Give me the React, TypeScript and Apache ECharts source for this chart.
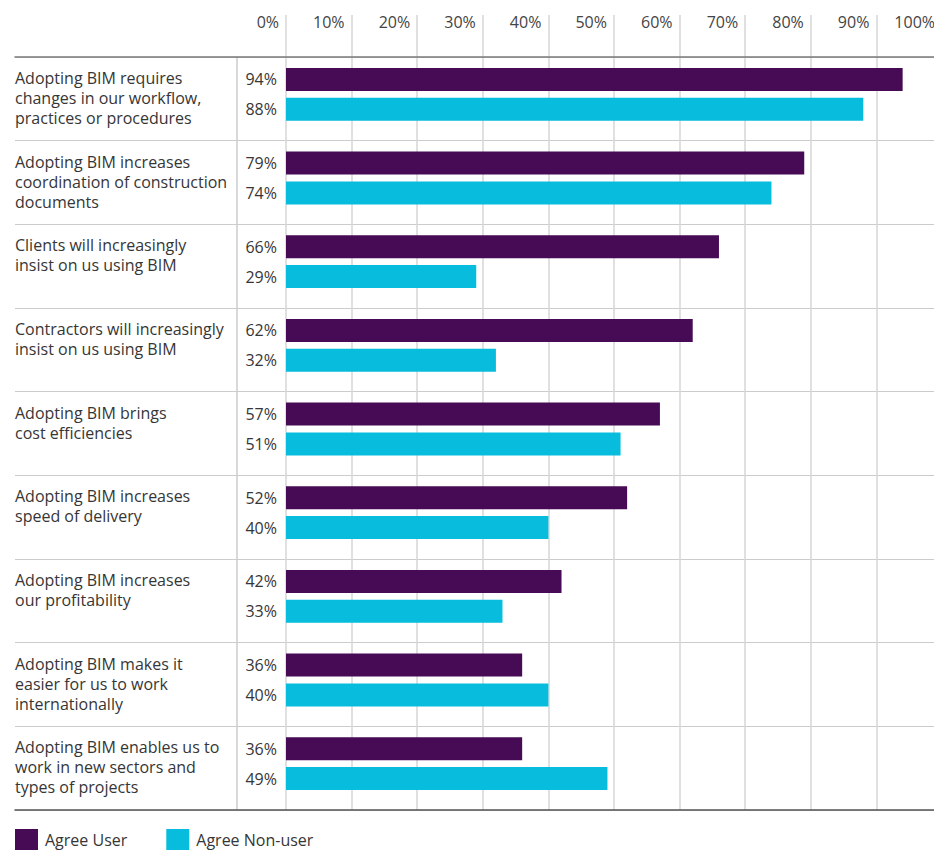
import React, { useEffect, useRef } from "react";
import * as echarts from "echarts";

const categories = [
  "Adopting BIM requires\nchanges in our workflow,\npractices or procedures",
  "Adopting BIM increases\ncoordination of construction\ndocuments",
  "Clients will increasingly\ninsist on us using BIM",
  "Contractors will increasingly\ninsist on us using BIM",
  "Adopting BIM brings\ncost efficiencies",
  "Adopting BIM increases\nspeed of delivery",
  "Adopting BIM increases\nour profitability",
  "Adopting BIM makes it\neasier for us to work\ninternationally",
  "Adopting BIM enables us to\nwork in new sectors and\ntypes of projects",
];
const agreeUser = [94, 79, 66, 62, 57, 52, 42, 36, 36];
const agreeNonUser = [88, 74, 29, 32, 51, 40, 33, 40, 49];
const seriesNames = ["Agree User", "Agree Non-user"];

const FONT = "'Open Sans', sans-serif";
const FS = 16;
const TEXT = "#363636";
const PURPLE = "#470a54";
const CYAN = "#07bcdc";

export default function App() {
  const ref = useRef<HTMLDivElement>(null);
  useEffect(() => {
    if (!ref.current) return;
    const chart = echarts.init(ref.current, undefined, { renderer: "svg" });
    const option: any = {
      animation: false,
      textStyle: { fontFamily: FONT },
      grid: [
        { left: 15, right: 8, top: 57, bottom: 40 },
        { left: 286, right: 0, top: 15, bottom: 40 },
        { left: 286, right: 0, top: 52.5, bottom: 44.5 },
      ],
      legend: {
        left: 15,
        top: 829,
        padding: 0,
        itemWidth: 23,
        itemHeight: 22,
        itemGap: 39,
        icon: "rect",
        data: seriesNames,
        textStyle: { fontSize: FS, color: TEXT, fontFamily: FONT, padding: [0, 0, 0, 2] },
      },
      xAxis: [
        {
          gridIndex: 0, type: "value", min: 0, max: 1, position: "top",
          axisLine: { show: true, lineStyle: { color: "#7a7a7a", width: 1.5 } },
          axisLabel: { show: false }, axisTick: { show: false }, splitLine: { show: false },
        },
        {
          gridIndex: 0, type: "value", min: 0, max: 1, position: "bottom",
          axisLine: { show: true, lineStyle: { color: "#555", width: 1.5 } },
          axisLabel: { show: false }, axisTick: { show: false }, splitLine: { show: false },
        },
        {
          gridIndex: 1, type: "value", min: 0, max: 100, interval: 10, position: "top",
          axisLine: { show: false }, axisTick: { show: false },
          axisLabel: {
            inside: true, margin: 7, align: "right", verticalAlign: "middle",
            padding: [0, 7, 0, 0], formatter: "{value}%", fontSize: FS, color: "#444",
            fontFamily: FONT, showMaxLabel: true, showMinLabel: true,
          },
          splitLine: { show: true, lineStyle: { color: "#d6d6d6", width: 1.5 } },
        },
        {
          gridIndex: 2, type: "value", min: 0, max: 100, show: false,
        },
      ],
      yAxis: [
        {
          gridIndex: 0, type: "category", inverse: true, data: categories,
          axisLine: { show: false }, axisTick: { show: false }, axisLabel: { show: false },
          splitLine: { show: true, lineStyle: { color: "#cccccc", width: 1 } },
        },
        {
          gridIndex: 0, type: "category", inverse: true, data: categories, offset: -222,
          axisLine: { show: true, lineStyle: { color: "#cccccc", width: 1.5 } },
          axisTick: { show: false }, axisLabel: { show: false }, splitLine: { show: false },
        },
        {
          gridIndex: 1, type: "category", inverse: true, data: categories, show: false,
        },
        {
          gridIndex: 2, type: "category", inverse: true, data: categories, show: false,
        },
      ],
      series: [
        {
          name: seriesNames[0], type: "bar", xAxisIndex: 3, yAxisIndex: 3,
          data: agreeUser, barWidth: 23, barGap: "30%",
          itemStyle: { color: PURPLE },
          label: {
            show: true, position: "left", distance: 9, formatter: "{c}%",
            fontSize: FS, color: TEXT, fontFamily: FONT,
          },
        },
        {
          name: seriesNames[1], type: "bar", xAxisIndex: 3, yAxisIndex: 3,
          data: agreeNonUser, barWidth: 23, barGap: "30%",
          itemStyle: { color: CYAN },
          label: {
            show: true, position: "left", distance: 9, formatter: "{c}%",
            fontSize: FS, color: TEXT, fontFamily: FONT,
          },
        },
        {
          type: "custom", xAxisIndex: 0, yAxisIndex: 0, silent: true,
          data: categories.map((_, i) => [0, i]),
          renderItem: (params: any, api: any) => {
            const i = api.value(1);
            const pt = api.coord([0, i]);
            return {
              type: "text",
              x: pt[0],
              y: pt[1] - 31,
              style: {
                text: categories[i],
                font: `${FS}px ${FONT}`,
                lineHeight: 20,
                fill: TEXT,
                align: "left",
                verticalAlign: "top",
              },
            };
          },
        },
      ],
    };
    chart.setOption(option);
    return () => chart.dispose();
  }, []);
  return (
    <div
      style={{
        position: "absolute", left: 0, top: 0, width: 934, height: 850,
        overflow: "hidden",
      }}
    >
      <div ref={ref} style={{ width: 942, height: 850 }} />
    </div>
  );
}
